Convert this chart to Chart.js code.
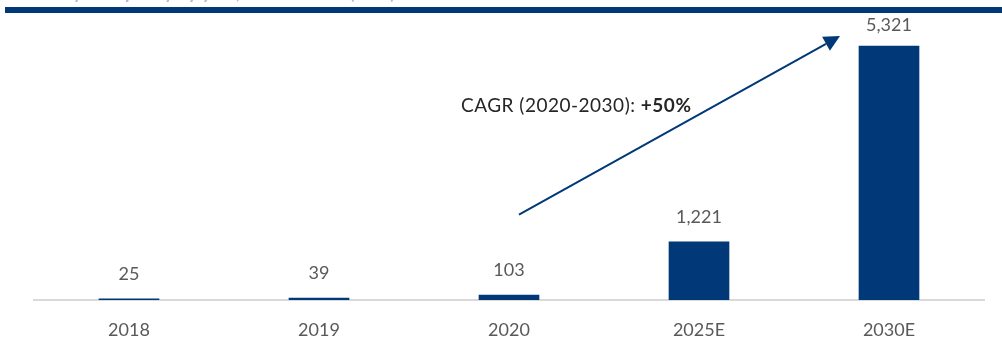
<!DOCTYPE html>
<html>
<head>
<meta charset="utf-8">
<script src="https://cdn.jsdelivr.net/npm/chart.js@4"></script>
<style>
  html, body { margin: 0; padding: 0; background: #ffffff; }
  #wrap { width: 1002px; height: 345px; position: relative; }
</style>
</head>
<body>
<div id="wrap"><canvas id="capacitychart"></canvas></div>
<script>
const years = ["2018", "2019", "2020", "2025E", "2030E"];
const capacity = [25, 39, 103, 1221, 5321];
const cagrText = "CAGR (2020-2030): ";
const cagrValue = "+50%";
const titleText = "Electrolysis capacity by year, 2018-2030E (MW)";

const navy = "#003878";
const grey = "#595959";
const font = "Lato, 'Open Sans', sans-serif";

// header rule and the clipped heading above it
const header = {
  id: "header",
  beforeDraw(chart) {
    const ctx = chart.ctx;
    ctx.save();
    ctx.fillStyle = "#a9bcd8";
    ctx.font = "bold 18px " + font;
    ctx.textBaseline = "alphabetic";
    ctx.fillText(titleText, 12, -1);
    ctx.fillStyle = navy;
    ctx.fillRect(5, 7, chart.width - 5, 6);
    ctx.restore();
  },
};

// value labels above each bar
const barlabels = {
  id: "barlabels",
  afterDatasetsDraw(chart) {
    const ctx = chart.ctx;
    const meta = chart.getDatasetMeta(0);
    ctx.save();
    ctx.fillStyle = grey;
    ctx.font = "18px " + font;
    ctx.textAlign = "center";
    ctx.textBaseline = "middle";
    meta.data.forEach((bar, i) => {
      ctx.fillText(capacity[i].toLocaleString("en-US"), bar.x, Math.max(bar.y - 25, 25));
    });
    ctx.restore();
  },
};

// growth arrow from the 2020 bar up to the 2030E bar
const cagrarrow = {
  id: "cagrarrow",
  afterDraw(chart) {
    const ctx = chart.ctx;
    const x = chart.scales.x;
    const y = chart.scales.y;
    const x0 = x.getPixelForValue(2) + 10;
    const y0 = y.getPixelForValue(1790);
    const x1 = x.getPixelForValue(4) - 49;
    const y1 = y.getPixelForValue(5530);
    const ang = Math.atan2(y1 - y0, x1 - x0);
    const len = 16;
    const half = 8;
    const bx = x1 - len * Math.cos(ang);
    const by = y1 - len * Math.sin(ang);

    ctx.save();
    ctx.strokeStyle = navy;
    ctx.fillStyle = navy;
    ctx.lineWidth = 2;
    ctx.beginPath();
    ctx.moveTo(x0, y0);
    ctx.lineTo(bx, by);
    ctx.stroke();
    ctx.beginPath();
    ctx.moveTo(x1, y1);
    ctx.lineTo(bx + half * Math.sin(ang), by - half * Math.cos(ang));
    ctx.lineTo(bx - half * Math.sin(ang), by + half * Math.cos(ang));
    ctx.closePath();
    ctx.fill();

    ctx.fillStyle = "#262626";
    ctx.textBaseline = "alphabetic";
    ctx.letterSpacing = "0.5px";
    ctx.font = "19px " + font;
    ctx.fillText(cagrText, 461, 112);
    const w = ctx.measureText(cagrText).width;
    ctx.font = "bold 19px " + font;
    ctx.fillText(cagrValue, 461 + w, 112);
    ctx.restore();
  },
};

const capacitychart = document.getElementById("capacitychart").getContext("2d");

new Chart(capacitychart, {
  type: "bar",
  data: {
    labels: years,
    datasets: [
      {
        data: capacity,
        backgroundColor: navy,
        barThickness: 60,
      },
    ],
  },
  options: {
    responsive: true,
    maintainAspectRatio: false,
    animation: false,
    layout: { padding: { top: 20, left: 34, right: 18, bottom: 0 } },
    plugins: {
      legend: { display: false },
      tooltip: { enabled: false },
    },
    scales: {
      x: {
        grid: { display: false, drawTicks: false },
        border: { color: "#d9d9d9", width: 2 },
        ticks: {
          color: grey,
          font: { family: font, size: 18 },
          padding: 19,
        },
        afterFit: (scale) => {
          scale.height = 45;
        },
      },
      y: {
        display: false,
        min: 0,
        max: 5866,
      },
    },
  },
  plugins: [header, barlabels, cagrarrow],
});
</script>
</body>
</html>
